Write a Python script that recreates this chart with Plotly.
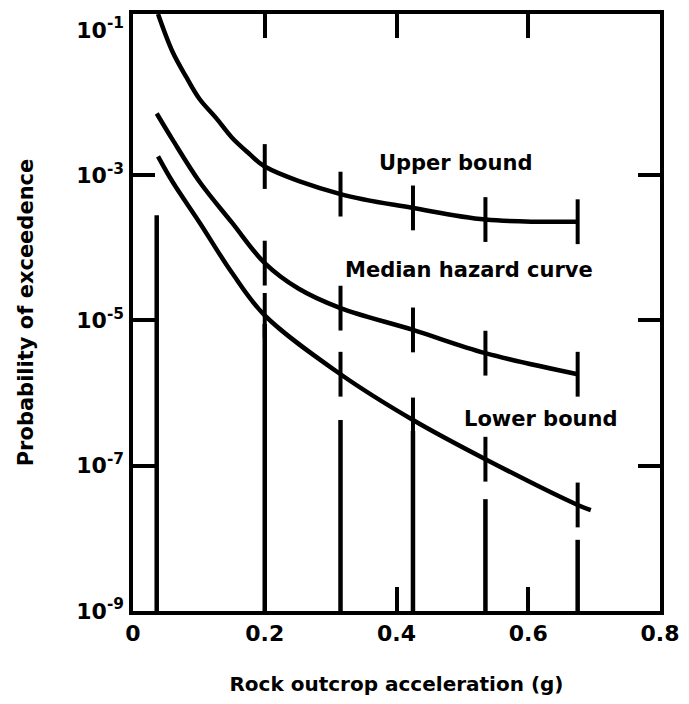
import plotly.graph_objects as go

# ---- data ----
upper_x = [0.038, 0.060, 0.081, 0.101, 0.126, 0.150, 0.176, 0.200, 0.315, 0.425, 0.535, 0.675]
upper_log = [-0.78, -1.30, -1.65, -1.95, -2.21, -2.48, -2.70, -2.88, -3.26, -3.45, -3.61, -3.64]

median_x = [0.036, 0.060, 0.101, 0.150, 0.200, 0.251, 0.315, 0.425, 0.535, 0.675]
median_log = [-2.15, -2.51, -3.09, -3.65, -4.21, -4.56, -4.83, -5.13, -5.45, -5.74]

lower_x = [0.038, 0.060, 0.101, 0.150, 0.200, 0.315, 0.425, 0.535, 0.675, 0.695]
lower_log = [-2.74, -3.09, -3.65, -4.34, -4.93, -5.74, -6.37, -6.91, -7.54, -7.61]

# points carrying uncertainty marks
mark_x = [0.200, 0.315, 0.425, 0.535, 0.675]
upper_mark_log = [-2.88, -3.26, -3.45, -3.61, -3.64]
median_mark_log = [-4.21, -4.83, -5.13, -5.45, -5.74]
lower_mark_log = [-4.93, -5.74, -6.37, -6.91, -7.54]

# vertical bars from the axis floor up to these values
bar_x = [0.036, 0.200, 0.315, 0.425, 0.535, 0.675]
bar_top_log = [-3.55, -5.05, -6.37, -6.52, -7.46, -8.02]
floor_log = -9

x_ticks = [0, 0.2, 0.4, 0.6, 0.8]
x_ticklabels = ["0", "0.2", "0.4", "0.6", "0.8"]
y_label_exp = [-1, -3, -5, -7, -9]
y_tick_exp = [-3, -5, -7]

labels = ["Upper bound", "Median hazard curve", "Lower bound"]
label_x = [0.49, 0.51, 0.62]
label_log = [-2.83, -4.30, -6.35]

# ---- figure ----
p = lambda e: 10 ** e
BLACK = "black"
FONT = "DejaVu Sans"

fig = go.Figure()

for xs, ls in [(upper_x, upper_log), (median_x, median_log), (lower_x, lower_log)]:
    fig.add_trace(go.Scatter(x=xs, y=[p(v) for v in ls], mode="lines",
                             line=dict(color=BLACK, width=4.5, shape="spline", smoothing=1.0),
                             hoverinfo="skip"))

for ls in [upper_mark_log, median_mark_log, lower_mark_log]:
    fig.add_trace(go.Scatter(x=mark_x, y=[p(v) for v in ls], mode="markers",
                             marker=dict(symbol="line-ns", size=32,
                                         line=dict(width=4, color=BLACK)),
                             hoverinfo="skip"))

vx, vy = [], []
for xv, tv in zip(bar_x, bar_top_log):
    vx += [xv, xv, None]
    vy += [p(floor_log), p(tv), None]
fig.add_trace(go.Scatter(x=vx, y=vy, mode="lines",
                         line=dict(color=BLACK, width=4.5), hoverinfo="skip"))

# invisible trace to carry the labelled axis
fig.add_trace(go.Scatter(x=[0.5], y=[p(-5)], yaxis="y2", mode="markers",
                         marker=dict(opacity=0), hoverinfo="skip", showlegend=False))

for t, xv, lv in zip(labels, label_x, label_log):
    fig.add_annotation(x=xv, y=lv, xref="x", yref="y", text=t, showarrow=False,
                       font=dict(family=FONT, size=21, color=BLACK, weight="bold"))

yrange = [-9, -0.78]
fig.update_layout(
    width=673, height=688,
    margin=dict(l=125, r=19, t=2, b=82),
    paper_bgcolor="white", plot_bgcolor="white",
    showlegend=False,
    font=dict(family=FONT, color=BLACK),
    xaxis=dict(range=[0, 0.8], tickvals=x_ticks, ticktext=x_ticklabels,
               showgrid=False, zeroline=False, ticklabeloverflow="allow",
               showline=True, linewidth=4, linecolor=BLACK, mirror="ticks",
               ticks="inside", ticklen=24, tickwidth=4, tickcolor=BLACK,
               tickfont=dict(family=FONT, size=22, color=BLACK, weight="bold"),
               title=dict(text="Rock outcrop acceleration (g)", standoff=34,
                          font=dict(family=FONT, size=20, color=BLACK, weight="bold"))),
    yaxis=dict(type="log", range=yrange, tickvals=[p(e) for e in y_tick_exp],
               showticklabels=False, showgrid=False, zeroline=False,
               showline=True, linewidth=4, linecolor=BLACK, mirror="ticks",
               ticks="inside", ticklen=22, tickwidth=4, tickcolor=BLACK),
    yaxis2=dict(type="log", range=yrange, overlaying="y", anchor="x", side="left",
                tickvals=[p(e) for e in y_label_exp],
                ticktext=["10<sup>%d</sup>" % e for e in y_label_exp],
                showgrid=False, zeroline=False, showline=False, ticks="",
                ticklabelstandoff=8, ticklabeloverflow="allow",
                tickfont=dict(family=FONT, size=22, color=BLACK, weight="bold"),
                title=dict(text="Probability of exceedence", standoff=36,
                           font=dict(family=FONT, size=21, color=BLACK, weight="bold"))),
)

fig.write_html("out.html")
